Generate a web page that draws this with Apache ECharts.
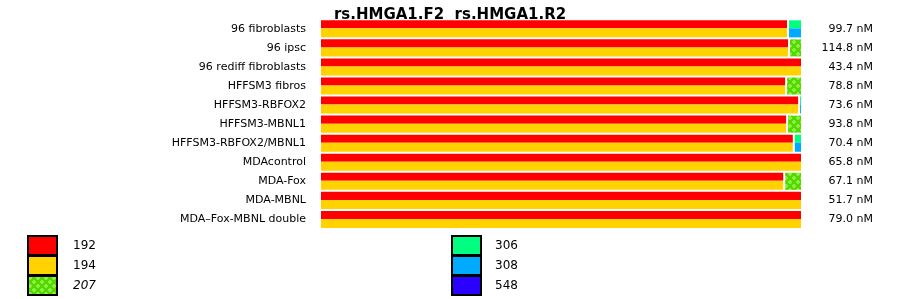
<!DOCTYPE html>
<html><head><meta charset="utf-8">
<script src="https://cdn.jsdelivr.net/npm/echarts@6/dist/echarts.min.js"></script>
<style>html,body{margin:0;padding:0;background:#fff;}#c{width:900px;height:299px;}</style>
</head><body><div id="c"></div>
<script>
const categories = ['96 fibroblasts','96 ipsc','96 rediff fibroblasts','HFFSM3 fibros','HFFSM3-RBFOX2','HFFSM3-MBNL1','HFFSM3-RBFOX2/MBNL1','MDAcontrol','MDA-Fox','MDA-MBNL','MDA\u2013Fox-MBNL double'];
const concentrations = ['99.7 nM','114.8 nM','43.4 nM','78.8 nM','73.6 nM','93.8 nM','70.4 nM','65.8 nM','67.1 nM','51.7 nM','79.0 nM'];
// percentages (F2 primer: 192 + 207 + 306 ; R2 primer: 194 + 207 + 308 + 548)
const v192 = [97.3, 97.5, 100, 96.9, 99.6, 97.1, 98.5, 100, 96.5, 100, 100];
const v194 = [97.3, 97.5, 100, 96.9, 99.6, 97.1, 98.5, 100, 96.5, 100, 100];
const v207 = [0, 2.5, 0, 3.1, 0, 2.9, 0, 0, 3.5, 0, 0];
const v306 = [2.7, 0, 0, 0, 0.4, 0, 1.5, 0, 0, 0, 0];
const v308 = [2.7, 0, 0, 0, 0.4, 0, 1.5, 0, 0, 0, 0];
const v548 = [0, 0, 0, 0, 0, 0, 0, 0, 0, 0, 0];

const pc = document.createElement('canvas');
pc.width = 8; pc.height = 8;
const g = pc.getContext('2d');
g.fillStyle = '#55d800'; g.fillRect(0,0,8,8);
g.fillStyle = '#88f040';
[[2,2],[6,6]].forEach(p=>{g.fillRect(p[0]-1,p[1]-2,2,4);g.fillRect(p[0]-2,p[1]-1,4,2);});
const greenPattern = {image: pc, repeat: 'repeat'};

const colors = {'192':'#ff0000','194':'#ffd200','207':greenPattern,'306':'#00ff80','308':'#00aaff','548':'#2a00ff'};

function segs(name){
  const out = [];
  for (let i=0;i<categories.length;i++){
    let s, e, part;
    if (name==='192'){ s=0; e=v192[i]; part=0; }
    else if (name==='194'){ s=0; e=v194[i]; part=1; }
    else if (name==='207'){ s=v192[i]; e=v192[i]+v207[i]; part=2; }
    else if (name==='306'){ s=v192[i]+v207[i]; e=s+v306[i]; part=0; }
    else if (name==='308'){ s=v194[i]+v207[i]; e=s+v308[i]; part=1; }
    else { s=v194[i]+v207[i]+v308[i]; e=s+v548[i]; part=1; }
    if (e - s > 0) out.push([i, s, e, part]);
  }
  return out;
}
function renderItem(params, api){
  const cat = api.value(0), s = api.value(1), e = api.value(2), part = api.value(3);
  const p0 = api.coord([s, cat]), p1 = api.coord([e, cat]);
  const band = api.size([0,1])[1];
  const h = band - 2;
  let x0 = p0[0], x1 = p1[0];
  if (s > 0.001) x0 += 1;
  if (e < 99.999) x1 -= 1;
  let y0, y1;
  const top = p0[1] - h/2, mid = p0[1] - 0.5, bot = p0[1] + h/2;
  if (part===0){ y0 = top; y1 = mid; }
  else if (part===1){ y0 = mid; y1 = bot; }
  else { y0 = top; y1 = bot; }
  return {type:'rect', shape:{x:x0, y:y0, width:Math.max(0,x1-x0), height:y1-y0},
          style:{fill: colors[params.seriesName]}};
}
const names = ['192','194','207','306','308','548'];
const series = names.map(n=>({
  type:'custom', name:n, renderItem, xAxisIndex:0, yAxisIndex:0,
  encode:{x:[1,2], y:0}, data: segs(n), itemStyle:{color: colors[n]}, silent:true
}));
const chart = echarts.init(document.getElementById('c'), null, {renderer:'canvas'});
const font = 'DejaVu Sans';
const legendText = {fontFamily:font, fontSize:12, color:'#000', lineHeight:19};
chart.setOption({
  animation:false,
  textStyle:{fontFamily:font},
  title:{text:'rs.HMGA1.F2  rs.HMGA1.R2', left:'center', top:3,
    textStyle:{fontFamily:font, fontSize:15, fontWeight:'bold', color:'#000'}},
  grid:{left:321, right:99, top:19.3, bottom:70, containLabel:false},
  xAxis:{type:'value', min:0, max:100, show:false},
  yAxis:[
    {type:'category', data:categories, inverse:true, axisLine:{show:false}, axisTick:{show:false},
     splitLine:{show:false}, axisLabel:{fontFamily:font, fontSize:11, color:'#000', margin:15}},
    {type:'category', data:concentrations, inverse:true, position:'right', axisLine:{show:false}, axisTick:{show:false},
     splitLine:{show:false}, axisLabel:{fontFamily:font, fontSize:11, color:'#000', margin:72, align:'right'}}
  ],
  legend:[
    {data:['192','194',{name:'207', textStyle:{fontStyle:'italic'}}], orient:'vertical', left:27, top:235,
     padding:0, height:70,
     icon:'rect', itemWidth:29, itemHeight:19, itemGap:-1, selectedMode:false,
     itemStyle:{borderColor:'#000', borderWidth:2},
     textStyle:Object.assign({padding:[0,0,0,11]}, legendText)},
    {data:['306','308','548'], orient:'vertical', left:451, top:235,
     padding:0, height:70,
     icon:'rect', itemWidth:29, itemHeight:19, itemGap:-1, selectedMode:false,
     itemStyle:{borderColor:'#000', borderWidth:2},
     textStyle:Object.assign({padding:[0,0,0,9]}, legendText)}
  ],
  series
});
</script></body></html>
